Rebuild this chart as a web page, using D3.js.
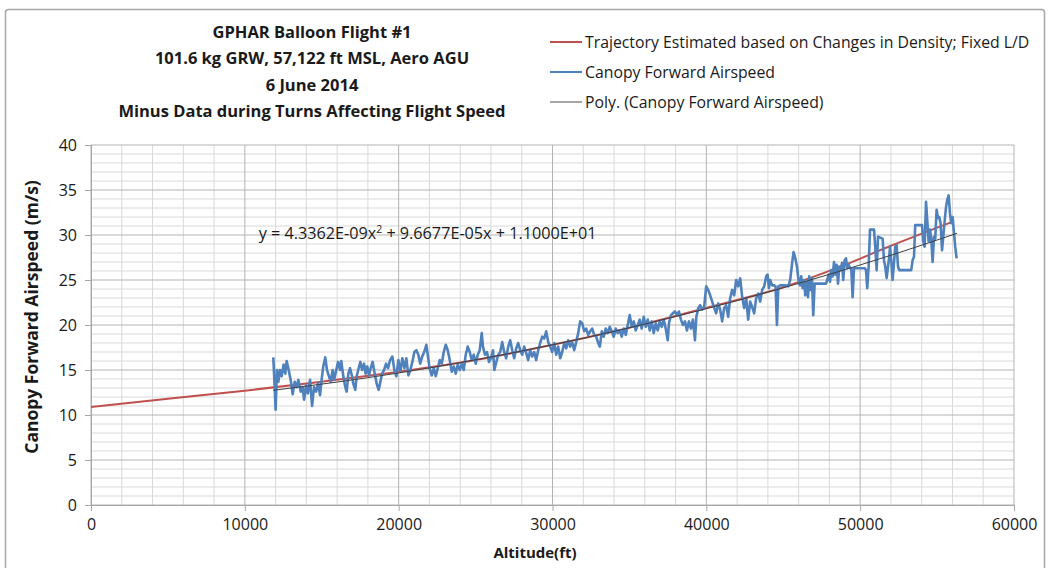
<!DOCTYPE html>
<meta charset="utf-8">
<style>
    body { margin: 0; background: #fff; overflow: hidden; }
    text { font-family: "Open Sans", sans-serif; fill: #1a1a1a; }
</style>
<svg id="chart" width="1050" height="568"></svg>
<script src="https://d3js.org/d3.v7.min.js"></script>
<script>

    var titleLines = [
        "GPHAR Balloon Flight #1",
        "101.6 kg GRW, 57,122 ft MSL, Aero AGU",
        "6 June 2014",
        "Minus Data during Turns Affecting Flight Speed"
    ];

    var legendNames = [
        "Trajectory Estimated based on Changes in Density; Fixed L/D",
        "Canopy Forward Airspeed",
        "Poly. (Canopy Forward Airspeed)"
    ];

    var xTicks = [0, 10000, 20000, 30000, 40000, 50000, 60000];
    var yTicks = [0, 5, 10, 15, 20, 25, 30, 35, 40];

    // estimated trajectory (altitude ft, m/s)
    var trajectory = [
        [0, 10.9], [5000, 11.8], [10000, 12.7], [15000, 13.7], [20000, 14.8],
        [25000, 16.1], [30000, 17.8], [35000, 19.7], [40000, 21.9], [45000, 24.2],
        [48600, 26.4], [52000, 28.8], [55900, 31.4]
    ];

    // polynomial trendline as drawn
    var trend = [
        [11850, 12.75], [16000, 13.66], [20000, 14.67], [24000, 15.82], [28000, 17.11],
        [32000, 18.53], [36000, 20.10], [40000, 21.81], [44000, 23.65], [48000, 25.63],
        [52000, 27.75], [56300, 30.19]
    ];

    // measured canopy forward airspeed
    var airspeed = [
        [11850,16.4],[11940,13.1],[12000,10.6],[12090,15.0],[12180,13.7],[12285,15.0],[12390,14.3],[12520,15.6],[12630,14.6],[12720,16.0],
        [12850,15.0],[12980,13.9],[13110,12.3],[13240,13.7],[13370,13.1],[13480,13.9],[13630,12.6],[13760,13.1],[13850,11.7],[13980,13.3],
        [14100,12.4],[14240,13.9],[14370,11.0],[14500,13.1],[14630,12.6],[14760,13.5],[14890,12.2],[14990,13.9],[15100,15.4],[15230,16.4],
        [15340,15.0],[15450,14.4],[15580,13.7],[15710,15.0],[15800,13.9],[15920,14.8],[16060,15.9],[16190,15.0],[16270,16.0],[16400,14.3],
        [16530,13.1],[16620,12.6],[16730,14.6],[16840,15.2],[16970,14.3],[17050,13.5],[17180,12.8],[17270,14.3],[17400,15.2],[17510,15.9],
        [17620,15.0],[17750,15.7],[17850,14.6],[17960,15.4],[18070,14.4],[18180,15.2],[18310,15.9],[18440,14.6],[18570,13.5],[18700,12.8],
        [18790,13.5],[18920,14.6],[19050,15.0],[19180,15.7],[19310,15.2],[19440,16.1],
        [19590,16.5],[19720,15.0],[19850,14.3],[19980,16.1],[20110,14.8],[20240,16.3],[20370,15.2],[20500,16.3],[20630,14.4],[20760,15.0],
        [20890,15.9],[21020,17.0],[21150,17.2],[21280,16.7],[21400,15.7],[21530,16.5],[21660,17.0],[21800,17.8],[21890,16.7],[22010,15.2],
        [22150,14.4],[22280,15.2],[22410,14.3],[22540,15.2],[22670,16.1],[22800,15.7],[22930,17.0],[23060,17.8],[23190,17.2],[23320,16.1],
        [23450,14.8],[23580,15.4],[23710,14.6],[23840,15.6],[23970,15.0],[24100,15.7],[24230,15.0],[24360,16.7],[24490,17.6],[24620,17.0],
        [24750,16.1],[24880,16.7],[25010,15.7],[25140,16.7],[25270,17.2],[25400,19.1],[25480,17.6],[25610,16.7],[25740,17.0],[25870,15.9],
        [26000,16.3],[26130,17.2],[26220,15.0],[26350,15.9],[26470,16.7],[26600,17.0],[26730,18.1],[26860,17.0],[26990,16.3],[27120,17.6],
        [27250,18.3],[27380,17.2],[27510,16.3],[27640,17.4],[27770,18.0],[27900,17.2],[28030,16.7],[28160,17.6],[28290,16.9],[28420,16.1],
        [28550,17.2],[28680,16.5],[28810,17.0],[28940,16.1],[29070,17.2],[29200,18.0],[29330,18.7],[29460,18.5],[29590,19.3],[29720,18.1],
        [29850,17.6],[29980,17.0],[30110,18.0],[30240,16.7],[30370,17.6],[30500,16.3],[30630,17.0],[30760,18.0],[30890,17.4],[31020,18.3],
        [31150,17.6],[31280,18.1],[31410,17.2],[31540,18.1],[31670,19.1],[31800,20.4],[31930,20.2],[32060,19.3],[32190,19.6],[32320,18.9],
        [32450,19.3],[32580,19.6],[32710,18.9],[32840,18.7],[32970,18.0],[33080,17.6],
        [33200,19.3],[33330,18.7],[33460,19.6],[33590,19.1],[33720,19.8],[33850,19.3],[33980,18.7],[34110,19.6],[34240,19.1],[34370,19.4],
        [34500,18.7],[34630,19.6],[34760,18.9],[34890,20.0],[35020,21.1],[35150,19.8],[35280,20.4],[35410,19.4],[35540,20.0],[35670,20.6],
        [35800,19.6],[35930,20.9],[36060,19.8],[36190,20.6],[36320,19.4],[36450,20.4],[36580,19.1],[36710,20.2],[36840,19.4],[36970,20.4],
        [37100,19.8],[37230,20.6],[37360,19.6],[37490,18.3],[37570,20.2],[37700,21.1],[37830,21.3],[37960,21.5],[38090,21.1],[38220,21.5],
        [38350,20.6],[38480,20.0],[38610,20.4],[38740,19.4],[38870,20.4],[39000,19.6],[39130,20.6],[39260,18.3],[39350,20.9],[39480,21.9],
        [39600,22.2],[39730,21.7],[39860,22.0],[39990,24.3],[40120,23.9],[40250,23.3],[40380,22.6],[40510,21.9],[40640,21.3],[40770,22.4],
        [40900,21.7],[41030,20.4],[41160,21.9],[41290,22.2],[41420,20.9],[41550,23.0],[41680,23.9],[41810,23.3],[41940,25.0],[42070,24.3],
        [42200,25.2],[42330,23.1],[42460,21.9],[42590,23.0],[42720,20.6],[42850,22.6],[42980,22.0],[43110,21.3],[43240,23.0],[43370,23.5],
        [43500,22.6],[43630,23.9],[43760,24.3],[43890,25.4],[43980,25.6],[44070,24.1],[44150,25.0],[44280,24.4],[44410,24.4],[44500,24.3],
        [44590,20.0],[44680,24.3],[44800,24.4],[44930,24.4],[45060,24.4],[45190,24.4],[45320,24.3],[45450,25.0],[45580,26.9],[45670,28.1],
        [45760,27.6],[45890,26.5],[46020,24.6],
        [46090,24.4],[46170,25.4],[46260,24.1],[46350,25.0],[46430,23.3],[46520,24.8],[46610,23.1],[46690,25.4],[46780,23.9],[46870,25.2],
        [46950,21.1],[47040,24.6],[47170,24.6],[47390,24.6],[47600,24.6],[47780,24.6],[47860,25.0],[47950,25.6],[48040,24.8],[48120,26.1],
        [48210,25.4],[48300,27.0],[48380,25.6],[48470,26.7],[48560,24.6],[48640,26.5],[48730,26.1],[48820,26.9],[48900,25.0],[48990,27.2],
        [49080,27.4],[49160,26.3],[49250,26.7],[49340,26.3],[49420,26.3],[49510,23.1],[49600,26.3],[50310,26.3],[50380,26.1],[50460,24.1],
        [50550,26.5],[50640,30.6],[50900,30.6],[50980,28.7],[51070,26.1],[51160,29.8],[51460,29.6],[51550,27.2],[51630,26.5],[51720,25.2],
        [51810,26.5],[51890,27.6],[51940,28.7],[52020,27.2],[52110,25.0],[52200,26.9],[52280,28.7],[52370,28.9],[52460,26.5],[52540,26.1],
        [53320,26.1],[53410,27.2],[53500,27.6],[53580,31.1],[54020,31.1],[54100,29.3],[54190,28.7],[54280,33.7],[54360,31.7],[54450,29.3],
        [54540,30.6],[54620,29.6],[54710,27.0],[54800,29.8],[54880,29.6],[54970,32.8],[55060,31.9],[55140,32.0],[55230,31.3],[55320,28.3],
        [55400,29.8],[55490,31.5],[55580,33.1],[55660,33.9],[55750,34.4],[55840,32.4],[55920,31.3],[56010,32.0],[56100,30.2],[56180,28.7],
        [56270,27.4]
    ];

    var svg = d3.select("#chart");

    var margin = {left: 91, right: 36, top: 145, bottom: 63},
        width = 1050 - margin.left - margin.right,
        height = 568 - margin.top - margin.bottom;

    // outer chart frame
    svg.append("rect")
       .attr("x", 5.5).attr("y", 9.5)
       .attr("width", 1039).attr("height", 580)
       .attr("rx", 3)
       .attr("fill", "#fff")
       .attr("stroke", "#a6a6a6")
       .attr("stroke-width", 1.5);

    var x = d3.scaleLinear().domain([0, 60000]).range([0, width]);
    var y = d3.scaleLinear().domain([0, 40]).range([height, 0]);

    var g = svg.append("g").attr("transform", "translate(" + margin.left + "," + margin.top + ")");

    // minor grid
    g.append("g")
     .selectAll("line")
     .data(d3.range(1, 40).filter(function(d) { return d % 5 !== 0; }))
     .enter().append("line")
     .attr("x1", 0).attr("x2", width)
     .attr("y1", function(d) { return y(d); })
     .attr("y2", function(d) { return y(d); })
     .attr("stroke", "#d9d9d9");

    g.append("g")
     .selectAll("line")
     .data(d3.range(2000, 60000, 2000).filter(function(d) { return d % 10000 !== 0; }))
     .enter().append("line")
     .attr("y1", 0).attr("y2", height)
     .attr("x1", function(d) { return x(d); })
     .attr("x2", function(d) { return x(d); })
     .attr("stroke", "#d9d9d9");

    // major grid
    g.append("g")
     .selectAll("line")
     .data(yTicks)
     .enter().append("line")
     .attr("x1", 0).attr("x2", width)
     .attr("y1", function(d) { return y(d); })
     .attr("y2", function(d) { return y(d); })
     .attr("stroke", "#b3b3b3");

    g.append("g")
     .selectAll("line")
     .data(xTicks)
     .enter().append("line")
     .attr("y1", 0).attr("y2", height)
     .attr("x1", function(d) { return x(d); })
     .attr("x2", function(d) { return x(d); })
     .attr("stroke", "#b3b3b3");

    // axes
    var xAxis = g.append("g")
                 .attr("transform", "translate(0," + height + ")")
                 .call(d3.axisBottom(x).tickValues(xTicks).tickSize(6).tickPadding(8).tickFormat(d3.format("d")));
    var yAxis = g.append("g")
                 .call(d3.axisLeft(y).tickValues(yTicks).tickSize(6).tickPadding(8));

    [xAxis, yAxis].forEach(function(a) {
        a.select(".domain").attr("stroke", "#a6a6a6");
        a.selectAll(".tick line").attr("stroke", "#a6a6a6");
        a.selectAll(".tick text")
         .attr("fill", "#1a1a1a")
         .style("font-family", '"Open Sans", sans-serif')
         .style("font-size", "16px");
    });

    var line = d3.line()
                 .x(function(d) { return x(d[0]); })
                 .y(function(d) { return y(d[1]); });

    g.append("path")
     .datum(trajectory)
     .attr("d", line.curve(d3.curveMonotoneX))
     .attr("fill", "none")
     .attr("stroke", "#c0504d")
     .attr("stroke-width", 2);

    g.append("path")
     .datum(airspeed)
     .attr("d", line.curve(d3.curveLinear))
     .attr("fill", "none")
     .attr("stroke", "#4f81bd")
     .attr("stroke-width", 2.6)
     .attr("stroke-linejoin", "round");

    g.append("path")
     .datum(trend)
     .attr("d", line.curve(d3.curveMonotoneX))
     .attr("fill", "none")
     .attr("stroke", "#404040")
     .attr("stroke-width", 1);

    // trendline equation
    var eq = g.append("text")
              .attr("x", x(10900))
              .attr("y", y(30.1) + 5)
              .style("font-size", "16.2px");
    eq.append("tspan").text("y = 4.3362E-09x");
    eq.append("tspan").attr("dy", -6).style("font-size", "10.5px").text("2");
    eq.append("tspan").attr("dy", 6).text(" + 9.6677E-05x + 1.1000E+01");

    // axis titles
    svg.append("text")
       .attr("x", 535).attr("y", 558)
       .attr("text-anchor", "middle")
       .style("font-size", "15px").style("font-weight", "bold")
       .text("Altitude(ft)");

    svg.append("text")
       .attr("transform", "translate(38,317) rotate(-90)")
       .attr("text-anchor", "middle")
       .style("font-size", "17.5px").style("font-weight", "bold")
       .text("Canopy Forward Airspeed (m/s)");

    // title
    svg.append("g")
       .selectAll("text")
       .data(titleLines)
       .enter().append("text")
       .attr("x", 312)
       .attr("y", function(d, i) { return 38 + i * 26.3; })
       .attr("text-anchor", "middle")
       .style("font-size", "16.5px").style("font-weight", "bold")
       .text(function(d) { return d; });

    // legend
    var legendColors = ["#c0504d", "#4f81bd", "#a6a6a6"];
    var legend = svg.append("g")
                    .selectAll("g")
                    .data(legendNames)
                    .enter().append("g")
                    .attr("transform", function(d, i) { return "translate(550," + (42 + i * 30) + ")"; });
    legend.append("line")
          .attr("x1", 0).attr("x2", 32)
          .attr("stroke", function(d, i) { return legendColors[i]; })
          .attr("stroke-width", 2);
    legend.append("text")
          .attr("x", 35).attr("dy", "0.35em")
          .style("font-size", "15.8px")
          .text(function(d) { return d; });

</script>
